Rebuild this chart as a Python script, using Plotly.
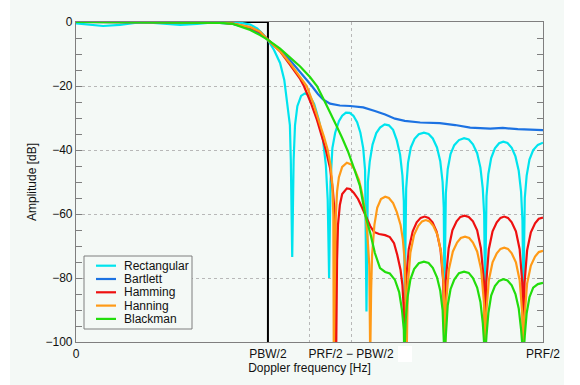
import plotly.graph_objects as go

# Doppler filter responses for five weighting windows.
# Frequency axis: 0 .. PRF/2 mapped to 0 .. 100; amplitude in dB.
PRF_HALF = 100.0
PBW_HALF = 41.1
EXTRA_GRID = 50.0

RECT_F = [0, 3.0, 5.8, 9.4, 12.6, 15.2, 19.1, 22.3, 25.9, 29.3, 32.5, 35.1, 37.3, 38.8, 40.0, 41.1,
          42.4, 43.7, 44.6, 45.2, 45.8, 46.0, 46.3,
          46.6, 46.9, 47.4, 48.2, 49.0, 49.9, 51.0, 52.0, 52.9, 53.5, 53.9, 54.2,
          54.5, 54.9, 55.5, 56.3, 57.0, 57.8, 58.6, 59.4, 60.2, 60.9, 61.5, 61.9, 62.2,
          62.5, 62.9, 63.5, 64.3, 65.1, 66.1, 67.0, 67.9, 68.7, 69.4, 69.9, 70.2, 70.4,
          70.7, 71.1, 71.7, 72.5, 73.4, 74.5, 75.5, 76.4, 77.3, 78.0, 78.5, 78.75, 78.9,
          79.2, 79.6, 80.2, 81.0, 82.0, 83.1, 84.1, 85.0, 85.9, 86.6, 87.1, 87.4, 87.6,
          87.9, 88.3, 88.9, 89.7, 90.6, 91.5, 92.4, 93.3, 94.1, 94.8, 95.3, 95.6, 95.8,
          96.1, 96.5, 97.1, 97.9, 98.9, 100]
RECT_DB = [-0.4, -0.9, -1.25, -0.9, -0.3, -0.1, -0.5, -0.9, -0.6, -0.15, -0.15, -0.2, -0.8, -2.0, -3.75, -5.6,
           -8.75, -12.8, -18.1, -24.4, -32.2, -43.1, -73.4,
           -43.1, -32.2, -26.3, -23.1, -22.3, -22.8, -25.6, -30.6, -36.9, -44.7, -55.6, -80.0,
           -50.0, -39.4, -34.6, -31.0, -29.3, -28.3, -28.4, -29.3, -31.3, -34.6, -39.4, -46.3, -90.5,
           -50.0, -43.6, -38.3, -34.7, -33.0, -32.0, -32.3, -33.7, -37.0, -41.5, -48.0, -56.0, -87.0,
           -52.0, -44.0, -39.2, -36.5, -35.1, -34.6, -35.0, -36.4, -39.2, -43.5, -50.0, -58.0, -86.0,
           -53.5, -46.0, -41.3, -38.5, -36.9, -36.3, -36.7, -38.2, -41.0, -45.5, -52.0, -60.0, -85.3,
           -54.5, -47.5, -42.5, -39.5, -37.9, -37.4, -37.8, -39.3, -42.0, -46.5, -53.0, -62.0, -85.9,
           -55.0, -48.0, -43.0, -40.0, -38.4, -37.7]

BART_F = [0, 15, 26.6, 30.8, 33.6, 37.3, 39.4, 41.1, 43.7, 45.8, 48.0, 50.5, 51.8, 52.9, 54.4, 56.5, 58.7,
          61.5, 64.0, 66.2, 68.3, 70.4, 73.7, 77.9, 81.2, 84.4, 88.7, 91.4, 94.6, 100]
BART_DB = [0, -0.02, -0.1, -0.25, -0.6, -2.0, -3.6, -5.6, -8.75, -11.9, -15.6, -20.0, -22.5, -24.2, -25.5,
           -26.1, -26.25, -26.7, -27.8, -28.9, -30.2, -30.9, -31.4, -31.6, -32.2, -33.0, -33.3, -33.1,
           -33.5, -33.8]

HAMM_F = [0, 15, 26.6, 30.8, 33.6, 37.3, 39.4, 41.1, 43.7, 45.8, 48.0, 48.8, 50.3, 51.6, 52.7, 53.5, 54.4,
          55.0, 55.5, 55.7,
          55.9, 56.1, 56.5, 57.0, 58.0, 58.7, 59.5, 60.4, 61.2, 62.1, 63.0, 63.8, 64.9, 66.2, 67.2, 68.1,
          68.8, 69.5, 69.9, 70.2, 70.4,
          70.65, 71.25, 72.1, 72.95, 73.8, 74.65, 75.5, 76.35, 77.2, 78.05, 78.65, 78.9,
          79.15, 79.8, 80.6, 81.5, 82.3, 83.2, 84.1, 85.0, 85.9, 86.7, 87.35, 87.6,
          87.85, 88.4, 89.2, 90.1, 90.9, 91.7, 92.5, 93.3, 94.2, 95.0, 95.55, 95.8,
          96.05, 96.6, 97.4, 98.3, 99.1, 100]
HAMM_DB = [0, -0.02, -0.05, -0.15, -0.5, -1.7, -3.1, -5.6, -9.2, -13.3, -17.8, -20.0, -25.3, -30.6, -35.9,
           -40.0, -45.6, -52.5, -61.9, -105,
           -74.4, -63.4, -57.2, -53.75, -52.0, -52.2, -53.4, -55.3, -57.8, -60.9, -63.75, -65.6, -66.25,
           -66.6, -67.2, -69.1, -72.8, -77.5, -82.2, -90.0, -105,
           -81.3, -71.0, -65.4, -62.6, -61.2, -60.8, -61.2, -62.6, -65.4, -71.0, -81.3, -105,
           -81.0, -70.7, -65.1, -62.3, -60.9, -60.5, -60.9, -62.3, -65.1, -70.7, -81.0, -105,
           -81.3, -71.0, -65.4, -62.6, -61.2, -60.8, -61.2, -62.6, -65.4, -71.0, -81.3, -105,
           -81.5, -71.3, -65.7, -62.9, -61.5, -61.1]

HANN_F = [0, 15, 26.6, 30.8, 33.6, 37.3, 39.4, 41.1, 43.7, 45.8, 48.0, 49.4, 50.7, 52.0, 53.1, 53.9, 54.5,
          54.9, 55.1, 55.2,
          55.4, 55.6, 55.9, 56.3, 57.0, 58.0, 58.9, 59.7, 60.6, 61.2, 61.9, 62.4, 62.8, 63.0,
          63.2, 63.4, 63.9, 64.5, 65.3, 66.2, 67.0, 67.9, 68.7, 69.5, 70.0, 70.4, 70.6, 70.8,
          71.05, 71.6, 72.4, 73.3, 74.1, 74.9, 75.7, 76.5, 77.4, 78.2, 78.75, 79.0,
          79.25, 79.85, 80.7, 81.6, 82.4, 83.3, 84.2, 85.0, 85.9, 86.75, 87.35, 87.6,
          87.85, 88.4, 89.2, 90.1, 90.9, 91.7, 92.5, 93.3, 94.2, 95.0, 95.55, 95.8,
          96.05, 96.6, 97.4, 98.3, 99.1, 100]
HANN_DB = [0, -0.02, -0.05, -0.15, -0.5, -1.6, -3.0, -5.6, -9.1, -12.8, -17.2, -20.0, -25.0, -30.6, -35.9,
           -40.0, -44.7, -50.9, -60.3, -105,
           -80.0, -62.0, -53.0, -48.5, -45.3, -44.0, -44.5, -46.25, -49.4, -53.1, -58.75, -66.6, -75.9, -105,
           -83.75, -72.8, -63.4, -58.1, -55.3, -54.6, -55.0, -56.6, -59.4, -63.4, -68.1, -75.0, -86.9, -105,
           -82.4, -72.1, -66.5, -63.7, -62.3, -61.9, -62.3, -63.7, -66.5, -72.1, -82.4, -105,
           -87.6, -77.3, -71.7, -68.9, -67.5, -67.1, -67.5, -68.9, -71.7, -77.3, -87.6, -105,
           -91.0, -80.7, -75.1, -72.3, -70.9, -70.5, -70.9, -72.3, -75.1, -80.7, -91.0, -105,
           -92.0, -81.7, -76.1, -73.3, -71.9, -71.5]

BLACK_F = [0, 15, 22, 26.6, 30.8, 33.6, 37.3, 39.4, 41.1, 43.7, 45.8, 48.0, 50.1, 51.6, 53.1, 54.4, 55.7,
           57.0, 58.2, 59.5, 60.8, 61.9, 63.0, 64.0, 65.1, 66.2, 67.2, 68.3, 69.2, 69.8, 70.2, 70.3,
           70.6, 71.0, 71.6, 72.4, 73.4, 74.5, 75.5, 76.4, 77.3, 78.0, 78.5, 78.9,
           79.2, 79.6, 80.2, 81.0, 82.0, 83.1, 84.1, 85.0, 85.9, 86.6, 87.1, 87.6,
           87.9, 88.3, 88.9, 89.7, 90.6, 91.5, 92.4, 93.3, 94.1, 94.8, 95.3, 95.8,
           96.1, 96.5, 97.1, 97.9, 98.9, 100]
BLACK_DB = [0, -0.02, -0.05, -0.08, -0.25, -0.6, -2.5, -4.1, -5.6, -8.3, -10.9, -13.9, -17.2, -20.0, -24.4,
            -28.1, -32.2, -36.25, -40.3, -45.6, -51.25, -60.0, -65.9, -72.2, -76.9, -78.1, -78.6, -80.6,
            -84.4, -90.0, -96.25, -105,
            -93, -86, -80.5, -77.2, -75.4, -74.9, -75.3, -76.8, -79.8, -84, -90, -105,
            -96, -88.5, -83.5, -80.5, -78.5, -78.0, -78.4, -80, -83, -87.5, -94, -105,
            -98, -91, -85.5, -82.5, -80.9, -80.4, -80.8, -82.3, -85, -89.5, -96, -105,
            -98, -91, -86, -83, -81.9, -81.5]

WINDOW_NAMES = ["Rectangular", "Bartlett", "Hamming", "Hanning", "Blackman"]
WINDOW_COLORS = ["#00E4EE", "#1C72E2", "#EE1010", "#FF9A17", "#22DD0C"]
WINDOW_F = [RECT_F, BART_F, HAMM_F, HANN_F, BLACK_F]
WINDOW_DB = [RECT_DB, BART_DB, HAMM_DB, HANN_DB, BLACK_DB]

X_TICKS = [0, PBW_HALF, EXTRA_GRID, PRF_HALF - PBW_HALF, PRF_HALF]
X_TICK_TEXT = ["0", "PBW/2", "", "PRF/2 \u2212 PBW/2", "PRF/2"]

FONT = "Liberation Sans, Arial, sans-serif"
BG = "#F4F9F6"
AXIS_GREY = "#7f7f7f"

# pixel layout of the plotting area
W, H = 580, 385
PL, PR, PT, PB = 76, 543, 22, 342


def fx(px):
    return (px - PL) / (PR - PL)


def fy(py):
    return (PB - py) / (PB - PT)


fig = go.Figure()

# ideal pass band
fig.add_trace(go.Scatter(x=[0, PBW_HALF, PBW_HALF], y=[0, 0, -100], mode="lines",
                         line=dict(color="black", width=2), hoverinfo="skip", showlegend=False))

for name, color, f, db in zip(WINDOW_NAMES, WINDOW_COLORS, WINDOW_F, WINDOW_DB):
    fig.add_trace(go.Scatter(x=f, y=db, mode="lines", name=name,
                             line=dict(color=color, width=2.2), showlegend=False))

shapes = [
    # tinted page area
    dict(type="rect", xref="paper", yref="paper", layer="below",
         x0=fx(10), x1=fx(564), y0=fy(W), y1=fy(0),
         fillcolor=BG, line=dict(width=0)),
    dict(type="rect", xref="paper", yref="paper", layer="above",
         x0=fx(398), x1=fx(412), y0=fy(362), y1=fy(346),
         fillcolor="white", line=dict(width=0)),
    # legend frame
    dict(type="rect", xref="paper", yref="paper", layer="above",
         x0=fx(84), x1=fx(192), y0=fy(329), y1=fy(256),
         fillcolor=BG, line=dict(color=AXIS_GREY, width=1)),
]
annotations = []
for i, (name, color) in enumerate(zip(WINDOW_NAMES, WINDOW_COLORS)):
    row_y = 265.7 + i * 13.3
    shapes.append(dict(type="line", xref="paper", yref="paper", layer="above",
                       x0=fx(96), x1=fx(116), y0=fy(row_y), y1=fy(row_y),
                       line=dict(color=color, width=2.2)))
    annotations.append(dict(text=name, xref="paper", yref="paper", x=fx(122), y=fy(row_y),
                            xanchor="left", yanchor="middle", showarrow=False,
                            font=dict(family=FONT, size=12, color="#111111")))

fig.update_layout(
    width=W, height=H,
    margin=dict(l=PL, r=W - PR, t=PT, b=H - PB, pad=0),
    paper_bgcolor="white", plot_bgcolor=BG,
    font=dict(family=FONT, size=12, color="#111111"),
    shapes=shapes, annotations=annotations,
    showlegend=False,
)

fig.update_xaxes(
    range=[0, PRF_HALF], tickmode="array", tickvals=X_TICKS, ticktext=X_TICK_TEXT,
    ticks="", showgrid=True, gridcolor="#b8b8b8", griddash="dot", gridwidth=1,
    showline=True, linecolor=AXIS_GREY, linewidth=1.2, mirror=True, zeroline=False,
    title=dict(text="Doppler frequency [Hz]", standoff=4, font=dict(size=12)),
)
fig.update_yaxes(
    range=[-100, 0], tick0=0, dtick=20, ticks="inside", ticklen=6, tickcolor=AXIS_GREY,
    minor=dict(dtick=5, ticks="inside", ticklen=6, tickcolor=AXIS_GREY, showgrid=False),
    showgrid=True, gridcolor="#b8b8b8", griddash="dot", gridwidth=1,
    showline=True, linecolor=AXIS_GREY, linewidth=1.2, mirror="ticks", zeroline=False,
    title=dict(text="Amplitude [dB]", standoff=6, font=dict(size=12)),
)

fig.write_html("out.html")
